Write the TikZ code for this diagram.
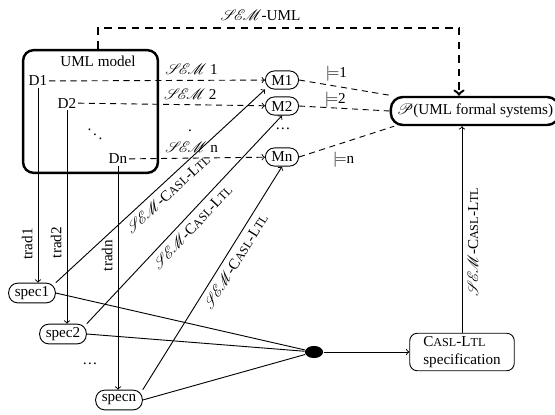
\documentclass[tikz,border=0pt]{standalone}
\usepackage{mathptmx}
\usepackage{fontspec}
\setmainfont{Liberation Serif}
\usepackage{tikz}
\usetikzlibrary{shapes.geometric}
\newcommand{\casl}{C{\footnotesize ASL}-L{\footnotesize TL}}
\newcommand{\semcal}{$\mathcal{S}\mkern-3mu\mathcal{E}\mkern-3mu\mathcal{M}$}
\begin{document}
\begin{tikzpicture}[x=0.66pt,y=-0.66pt,>=to,semithick,
  modelbox/.style={draw,line width=1.6pt,rounded corners=7pt,minimum width=89pt,minimum height=81pt},
  mbox/.style={draw,rounded corners=6pt,inner xsep=4pt,inner ysep=2pt,minimum height=12pt},
  specbox/.style={draw,rounded corners=6pt,inner xsep=4pt,inner ysep=2pt,minimum height=13pt},
  sysbox/.style={draw,line width=1.6pt,rounded corners=8pt,inner xsep=4pt,minimum height=18.5pt},
  caslbox/.style={draw,rounded corners=5pt,align=left,inner sep=2pt,minimum width=69pt,minimum height=20pt},
  semline/.style={->,dashed,dash pattern=on 4pt off 3pt},
  satline/.style={dashed,dash pattern=on 4pt off 3pt},
  topline/.style={->,line width=1.6pt,dash pattern=on 5pt off 4pt}]
\useasboundingbox (0,0) rectangle (555,414);
% ---------- UML model ----------
\node[modelbox] (model) at (90.5,111.5) {};
\node (modeltitle) at (98,61) {UML model};
\node[inner sep=1pt] (D1) at (38,81) {D1};
\node[inner sep=1pt] (D2) at (67,103) {D2};
\node[inner sep=1pt] (Dn) at (118,159) {Dn};
\node (ddots) at (95,130) {$\ddots$};
% ---------- models ----------
\node[mbox] (M1) at (282,80) {M1};
\node[mbox] (M2) at (282,106) {M2};
\node[mbox] (Mn) at (282,157) {Mn};
\node (mdots) at (283,129) {\dots};
\node (semdot) at (190,131) {.};
\node[sysbox] (sys) at (475,111) {$\mathcal{P}$(UML formal systems)};
% ---------- specifications ----------
\node[specbox] (spec1) at (32,293) {spec1};
\node[specbox] (spec2) at (63,334) {spec2};
\node[specbox] (specn) at (119,400) {specn};
\node (specdots) at (90,364) {\dots};
\node[ellipse,fill,inner sep=0pt,minimum width=12pt,minimum height=8pt] (join) at (314,352) {};
\node[caslbox] (casl) at (462,352) {\casl\\specification};
% ---------- semantics ----------
\draw[semline] (D1) -- (M1) node[pos=0.66,above] {\semcal\ 1};
\draw[semline] (D2) -- (M2) node[pos=0.6,above] {\semcal\ 2};
\draw[semline] (Dn) -- (Mn) node[pos=0.46,above] {\semcal\ n};
\draw[satline] (M1.east) -- ([xshift=2pt]sys.north west) node[pos=0.4,above] {$\models$1};
\draw[satline] (M2.east) -- (sys.west) node[pos=0.4,above=-3pt] {$\models$2};
\draw[satline] (Mn.east) -- ([xshift=3pt]sys.south west) node[pos=0.47,below=3pt] {$\models$n};
\coordinate (topl) at (98,28);
\coordinate (topr) at (459,28);
\draw[topline] (model.north -| topl) -- (topl) -- (topr) node[pos=0.45,above=1pt] {\semcal-UML} -- (topr |- sys.north);
% ---------- translations ----------
\draw[->] (D1.south) -- (D1.south |- spec1.north) node[pos=0.8,rotate=90,anchor=south] {trad1};
\draw[->] (D2.south) -- (D2.south |- spec2.north) node[pos=0.62,rotate=90,anchor=south] {trad2};
\draw[->] (Dn.south) -- (Dn.south |- specn.north) node[pos=0.4,rotate=90,anchor=south] {tradn};
\draw[->] (spec1.north east) -- (M1.south west) node[pos=0.5,sloped,below] {\semcal-\casl};
\draw[->] (spec2.north east) -- (M2.south) node[pos=0.5,sloped,below] {\semcal-\casl};
\draw[->] (specn.north east) -- (Mn.south) node[pos=0.6,sloped,below] {\semcal-\casl};
\draw (spec1.east) -- (join);
\draw (spec2.east) -- (join);
\draw (specn.east) -- (join);
\draw[->] (join) -- (casl);
\draw[->] (casl.north) -- (casl.north |- sys.south) node[pos=0.44,sloped,below] {\semcal-\casl};
\end{tikzpicture}
\end{document}
